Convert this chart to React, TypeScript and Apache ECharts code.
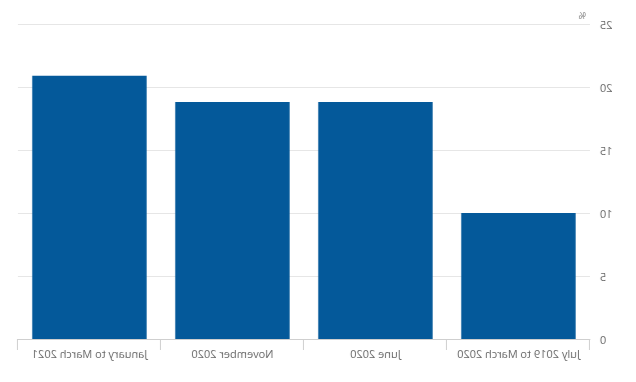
import React, { useEffect, useRef } from "react";
import * as echarts from "echarts";

const categories = [
  "July 2019 to March 2020",
  "June 2020",
  "November 2020",
  "January to March 2021",
];
const values = [10, 18.8, 18.8, 20.9];
const yTicks = { min: 0, max: 25, interval: 5 };

export default function App() {
  const ref = useRef<HTMLDivElement>(null);
  useEffect(() => {
    if (!ref.current) return;
    const chart = echarts.init(ref.current, undefined, { renderer: "svg" });
    chart.setOption({
      animation: false,
      textStyle: { fontFamily: "Open Sans" },
      grid: { left: 46, right: 18, top: 24, bottom: 43 },
      xAxis: {
        type: "category",
        data: categories,
        axisLine: { show: true, lineStyle: { color: "#cfcfcf" } },
        axisTick: { show: true, length: 11, lineStyle: { color: "#cfcfcf" } },
        axisLabel: { color: "#666", fontSize: 11, margin: 9, interval: 0, hideOverlap: false },
      },
      yAxis: {
        type: "value",
        min: yTicks.min,
        max: yTicks.max,
        interval: yTicks.interval,
        name: "%",
        nameLocation: "end",
        nameGap: 4,
        nameTextStyle: { color: "#777", fontSize: 9, align: "left", padding: [0, 0, 0, 4] },
        axisLine: { show: false },
        axisTick: { show: false },
        axisLabel: { color: "#666", fontSize: 11, margin: 10 },
        splitLine: { lineStyle: { color: "#e6e6e6" } },
      },
      series: [
        {
          type: "bar",
          data: values,
          barCategoryGap: "20%",
          itemStyle: { color: "#04599a" },
        },
      ],
    });
    return () => chart.dispose();
  }, []);
  return (
    <div
      ref={ref}
      style={{
        position: "fixed",
        left: 0,
        top: 0,
        width: 636,
        height: 382,
        transform: "scaleX(-1)",
        background: "#fff",
      }}
    />
  );
}
